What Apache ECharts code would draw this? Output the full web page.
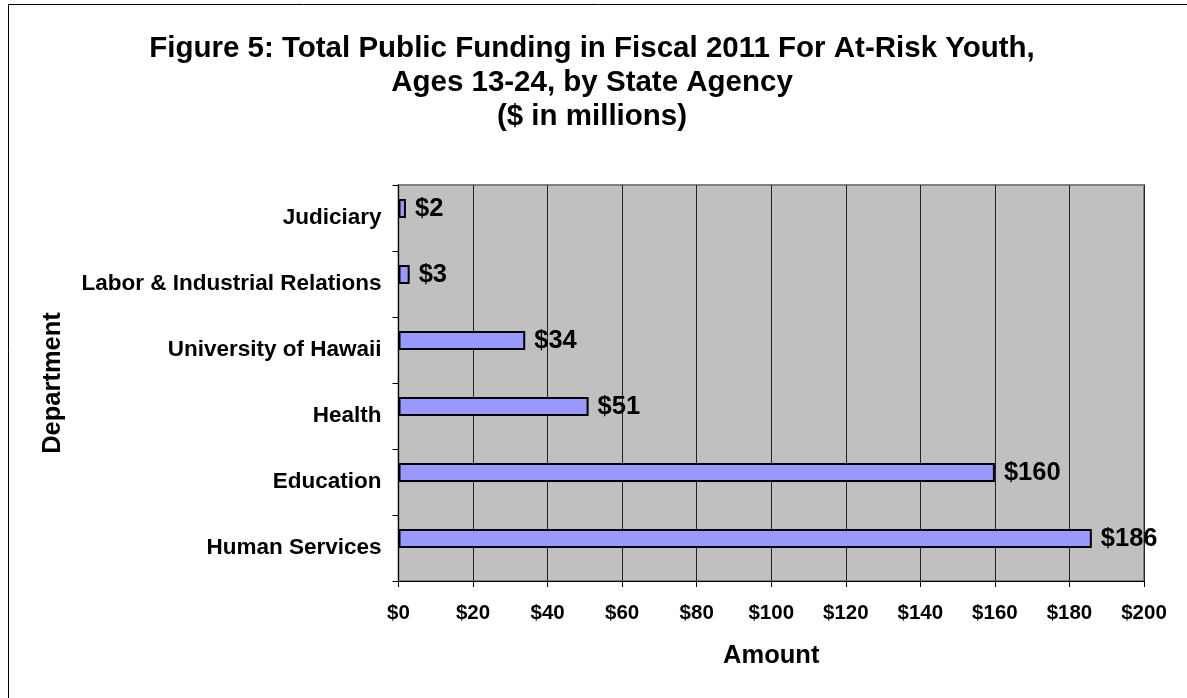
<!DOCTYPE html>
<html>
<head>
<meta charset="utf-8">
<script src="https://cdn.jsdelivr.net/npm/echarts@6/dist/echarts.min.js"></script>
<style>
  html, body { margin: 0; padding: 0; background: #fff; }
  #chart { width: 1187px; height: 698px; }
</style>
</head>
<body>
<div id="chart"></div>
<script>
// Departments, listed bottom to top along the category axis
const departments = [
  'Human Services',
  'Education',
  'Health',
  'University of Hawaii',
  'Labor & Industrial Relations',
  'Judiciary'
];
// Funding in $ millions
const amounts = [186, 160, 51, 34, 3, 2];
// Value axis range and step
const axisMin = 0;
const axisMax = 200;
const axisStep = 20;

const titleLines = [
  'Figure 5: Total Public Funding in Fiscal 2011 For At-Risk Youth,',
  'Ages 13-24, by State Agency',
  '($ in millions)'
];

const FONT = "'Liberation Sans', Arial, sans-serif";

const chart = echarts.init(document.getElementById('chart'), null, { renderer: 'canvas' });

chart.setOption({
  backgroundColor: '#ffffff',
  animation: false,
  title: {
    text: titleLines.join('\n'),
    left: 587,
    top: 27,
    textAlign: 'center',
    textStyle: {
      fontFamily: FONT,
      fontWeight: 'bold',
      fontSize: 29.5,
      lineHeight: 34,
      color: '#000'
    }
  },
  graphic: [
    {
      type: 'rect',
      silent: true,
      z: 100,
      shape: { x: 8.5, y: 4.5, width: 1300, height: 900 },
      style: { fill: 'none', stroke: '#000', lineWidth: 1 }
    }
  ],
  grid: {
    left: 398.5,
    top: 185,
    right: 43,
    bottom: 117,
    show: true,
    backgroundColor: '#C0C0C0',
    borderColor: '#808080',
    borderWidth: 2
  },
  xAxis: {
    type: 'value',
    min: axisMin,
    max: axisMax,
    interval: axisStep,
    name: 'Amount',
    nameLocation: 'middle',
    nameGap: 62,
    nameTextStyle: { fontFamily: FONT, fontWeight: 'bold', fontSize: 25.5, color: '#000' },
    axisLine: { show: true, lineStyle: { color: '#000', width: 1 } },
    axisTick: { show: true, length: 6, lineStyle: { color: '#000' } },
    axisLabel: {
      margin: 22,
      fontFamily: FONT,
      fontWeight: 'bold',
      fontSize: 20.5,
      color: '#000',
      formatter: v => '$' + v
    },
    splitLine: { show: true, lineStyle: { color: '#222', width: 1 } }
  },
  yAxis: {
    type: 'category',
    data: departments,
    name: 'Department',
    nameLocation: 'middle',
    nameRotate: 90,
    nameGap: 333,
    nameTextStyle: { fontFamily: FONT, fontWeight: 'bold', fontSize: 25.5, color: '#000' },
    axisLine: { show: true, lineStyle: { color: '#000', width: 1 } },
    axisTick: { show: true, length: 6, alignWithLabel: false, lineStyle: { color: '#000' } },
    axisLabel: {
      margin: 17,
      fontFamily: FONT,
      fontWeight: 'bold',
      fontSize: 22.5,
      color: '#000'
    },
    splitLine: { show: false }
  },
  series: [
    {
      name: 'Amount',
      type: 'bar',
      data: amounts,
      barWidth: 19,
      barGap: '0%',
      itemStyle: { color: '#9999FF', borderColor: '#000', borderWidth: 2 },
      label: {
        show: true,
        position: 'right',
        distance: 9,
        fontFamily: FONT,
        fontWeight: 'bold',
        fontSize: 25.5,
        color: '#000',
        formatter: p => '$' + p.value
      }
    },
    {
      // empty slot that keeps the funding bar in the upper half of each band
      name: 'spacer',
      type: 'bar',
      data: amounts.map(() => 0),
      barWidth: 19,
      silent: true,
      itemStyle: { color: 'rgba(0,0,0,0)', borderWidth: 0 },
      label: { show: false }
    }
  ]
});
</script>
</body>
</html>
